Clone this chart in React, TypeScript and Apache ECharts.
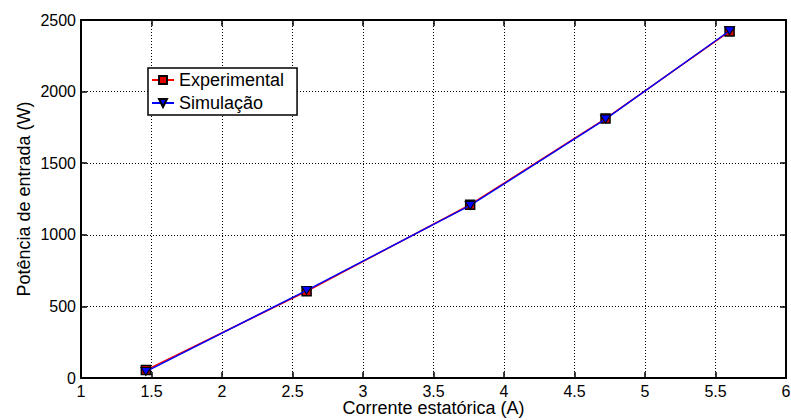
import React, { useEffect, useRef } from "react";
import * as echarts from "echarts";

const currentExp = [1.46, 2.6, 3.76, 4.72, 5.6];
const powerExp = [55, 605, 1210, 1812, 2420];
const currentSim = [1.46, 2.6, 3.76, 4.72, 5.6];
const powerSim = [45, 612, 1205, 1808, 2425];
const seriesNames = ["Experimental", "Simulação"];
const xTitle = "Corrente estatórica (A)";
const yTitle = "Potência de entrada (W)";

const FONT = "Liberation Sans, Arial, sans-serif";

export default function App() {
  const ref = useRef<HTMLDivElement>(null);
  useEffect(() => {
    if (!ref.current) return;
    const chart = echarts.init(ref.current, null, { renderer: "svg", width: 791, height: 420 });
    const axisCommon = {
      axisLine: { show: true, onZero: false, lineStyle: { color: "#000", width: 2 } },
      axisTick: { show: true, inside: true, length: 6, lineStyle: { color: "#000", width: 1.5 } },
    };
    chart.setOption({
      animation: false,
      backgroundColor: "#fff",
      grid: {
        left: 81,
        right: 5,
        top: 20,
        bottom: 42,
        containLabel: false,
        outerBoundsMode: "none",
      },
      legend: {
        orient: "vertical",
        left: 148,
        top: 68,
        padding: [3, 13, 3, 3],
        itemGap: 5,
        itemWidth: 22,
        itemHeight: 10,
        backgroundColor: "#fff",
        borderColor: "#000",
        borderWidth: 1.5,
        borderRadius: 0,
        textStyle: { fontFamily: FONT, fontSize: 18, color: "#000", lineHeight: 18 },
        data: seriesNames,
      },
      xAxis: [
        {
          type: "value",
          min: 1,
          max: 6,
          interval: 0.5,
          name: xTitle,
          nameLocation: "middle",
          nameGap: 21,
          nameMoveOverlap: false,
          nameTextStyle: { fontFamily: FONT, fontSize: 18, color: "#000", lineHeight: 18 },
          ...axisCommon,
          axisLabel: { fontFamily: FONT, fontSize: 16, color: "#000", margin: 5, lineHeight: 16 },
          splitLine: { show: true, lineStyle: { color: "#000", type: [1, 2], width: 1 } },
        },
        {
          type: "value",
          position: "top",
          min: 1,
          max: 6,
          interval: 0.5,
          ...axisCommon,
          axisLabel: { show: false },
          splitLine: { show: false },
        },
      ],
      yAxis: [
        {
          type: "value",
          min: 0,
          max: 2500,
          interval: 500,
          name: yTitle,
          nameLocation: "middle",
          nameGap: 48,
          nameMoveOverlap: false,
          nameTextStyle: { fontFamily: FONT, fontSize: 18, color: "#000" },
          ...axisCommon,
          axisLabel: {
            fontFamily: FONT,
            fontSize: 16,
            color: "#000",
            margin: 5,
            formatter: (v: number) => String(v),
          },
          splitLine: { show: true, lineStyle: { color: "#000", type: [1, 2], width: 1 } },
        },
        {
          type: "value",
          position: "right",
          min: 0,
          max: 2500,
          interval: 500,
          ...axisCommon,
          axisLabel: { show: false },
          splitLine: { show: false },
        },
      ],
      series: [
        {
          name: seriesNames[0],
          type: "line",
          data: currentExp.map((x, i) => [x, powerExp[i]]),
          symbol: "rect",
          symbolSize: 9,
          lineStyle: { color: "#ff0000", width: 1.5 },
          itemStyle: { color: "#e00000", borderColor: "#000", borderWidth: 1.5 },
          z: 2,
        },
        {
          name: seriesNames[1],
          type: "line",
          data: currentSim.map((x, i) => [x, powerSim[i]]),
          symbol: "path://M0,0 L10,0 L5,8 Z",
          symbolSize: [10, 8],
          lineStyle: { color: "#0000ff", width: 1.5 },
          itemStyle: { color: "#0000ff", borderColor: "#000", borderWidth: 1 },
          z: 3,
        },
      ],
    });
    return () => chart.dispose();
  }, []);
  return (
    <div
      ref={ref}
      style={{ width: 791, height: 420, position: "fixed", left: 0, top: 0 }}
    />
  );
}
